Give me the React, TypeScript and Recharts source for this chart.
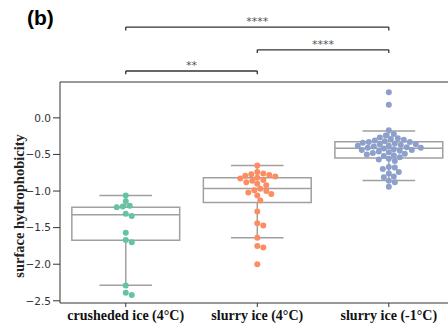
import { ComposedChart, Scatter, XAxis, YAxis, ReferenceArea, ReferenceLine } from "recharts";

const CATS = ["crusheded ice (4°C)", "slurry ice (4°C)", "slurry ice (-1°C)"];
const COLORS = ["#66c2a5", "#fc8d62", "#8da0cb"];

const crushed = [-1.06, -1.14, -1.2, -1.21, -1.22, -1.31, -1.34, -1.57, -1.67, -1.7, -2.29, -2.39, -2.42];
const slurry4 = [
  -0.65, -0.74, -0.76, -0.77, -0.78, -0.79, -0.8, -0.82, -0.83, -0.85, -0.86, -0.88, -0.9, -0.92,
  -0.97, -0.99, -1.0, -1.02, -1.04, -1.06, -1.13, -1.28, -1.44, -1.47, -1.64, -1.75, -1.77, -2.0,
];
const slurryM1 = [
  0.35, 0.18, -0.17, -0.22, -0.24, -0.27, -0.28, -0.29, -0.3, -0.31, -0.32, -0.33, -0.33, -0.34,
  -0.35, -0.36, -0.36, -0.37, -0.38, -0.38, -0.39, -0.4, -0.41, -0.41, -0.42, -0.43, -0.44, -0.44,
  -0.45, -0.46, -0.47, -0.48, -0.49, -0.5, -0.51, -0.52, -0.54, -0.56, -0.57, -0.59, -0.67, -0.68,
  -0.7, -0.74, -0.76, -0.8, -0.81, -0.86, -0.88, -0.94,
];

const boxQ1 = [-1.672, -1.157, -0.55];
const boxMedian = [-1.325, -0.965, -0.415];
const boxQ3 = [-1.22, -0.82, -0.328];
const whiskerLow = [-2.286, -1.64, -0.856];
const whiskerHigh = [-1.06, -0.65, -0.178];

const Y_TICKS = [-2.5, -2, -1.5, -1, -0.5, 0];
const Y_MIN = -2.53;
const Y_MAX = 0.49;

const brackets = [
  { from: 0, to: 1, level: 0.64, label: "**" },
  { from: 1, to: 2, level: 0.93, label: "****" },
  { from: 0, to: 2, level: 1.24, label: "****" },
];

// pixel size of one data unit, used only to lay the swarm out without overlaps
const PX_X = 131.5;
const PX_Y = 73.18;
const R = 3;
const GAP = 5.6;

function swarm(values: number[], center: number) {
  const placed: { x: number; y: number }[] = [];
  const out: { x: number; y: number }[] = [];
  const sorted = [...values].sort((a, b) => b - a);
  for (const v of sorted) {
    const y = v * PX_Y;
    let off = 0;
    for (let k = 0; k < 200; k++) {
      const cand = (k % 2 === 1 ? 1 : -1) * Math.ceil(k / 2);
      const hit = placed.some(p => (p.x - cand) ** 2 + (p.y - y) ** 2 < GAP ** 2);
      if (!hit) { off = cand; break; }
    }
    placed.push({ x: off, y });
    out.push({ x: center + off / PX_X, y: v });
  }
  return out;
}

const groups = [crushed, slurry4, slurryM1].map((vals, i) => swarm(vals, i));

const fmt = (v: number) => (v < 0 ? "\u2212" : "") + Math.abs(v).toFixed(1);
const BOX = "#a0a0a0";

export default function App() {
  return (
    <div style={{ position: "absolute", left: 0, top: 0, width: 448, height: 327, background: "#fff" }}>
      <div style={{ position: "absolute", left: 27, top: 6, fontFamily: "Liberation Sans", fontWeight: 700, fontSize: 21 }}>(b)</div>
      <ComposedChart width={448} height={327} margin={{ top: 82, right: 0, bottom: 0, left: 0 }}>
        <XAxis
          type="number"
          dataKey="x"
          domain={[-0.5, 2.45]}
          ticks={[0, 1, 2]}
          tickFormatter={(v: number) => CATS[v]}
          height={24}
          tickSize={4}
          tickMargin={3}
          stroke="#333"
          tick={{ fill: "#111", fontFamily: "Liberation Serif", fontWeight: 700, fontSize: 14 }}
          allowDataOverflow
        />
        <YAxis
          type="number"
          dataKey="y"
          domain={[Y_MIN, Y_MAX]}
          ticks={Y_TICKS}
          tickFormatter={fmt}
          width={60}
          tickSize={7}
          tickMargin={2}
          stroke="#333"
          allowDataOverflow
          tick={{ fill: "#333", fontFamily: "DejaVu Sans", fontSize: 10.5 }}
          label={{
            content: () => (
              <text x={19} y={206} transform="rotate(-90 19 206)" textAnchor="middle" dominantBaseline="central"
                fontFamily="Liberation Serif" fontWeight={700} fontSize={14.5} fill="#222">
                surface hydrophobicity
              </text>
            ),
          }}
        />
        <ReferenceLine y={Y_MAX} stroke="#333" />
        {CATS.map((_, i) => (
          <ReferenceArea key={"box" + i} x1={i - 0.41} x2={i + 0.41} y1={boxQ1[i]} y2={boxQ3[i]}
            fill="none" fillOpacity={0} stroke={BOX} strokeWidth={1.5} />
        ))}
        {CATS.map((_, i) => (
          <ReferenceLine key={"med" + i} segment={[{ x: i - 0.41, y: boxMedian[i] }, { x: i + 0.41, y: boxMedian[i] }]}
            stroke={BOX} strokeWidth={1.5} />
        ))}
        {CATS.map((_, i) => (
          <ReferenceLine key={"wl" + i} segment={[{ x: i, y: boxQ1[i] }, { x: i, y: whiskerLow[i] }]} stroke={BOX} strokeWidth={1.5} />
        ))}
        {CATS.map((_, i) => (
          <ReferenceLine key={"wh" + i} segment={[{ x: i, y: boxQ3[i] }, { x: i, y: whiskerHigh[i] }]} stroke={BOX} strokeWidth={1.5} />
        ))}
        {CATS.map((_, i) => (
          <ReferenceLine key={"cl" + i} segment={[{ x: i - 0.2, y: whiskerLow[i] }, { x: i + 0.2, y: whiskerLow[i] }]} stroke={BOX} strokeWidth={1.5} />
        ))}
        {CATS.map((_, i) => (
          <ReferenceLine key={"ch" + i} segment={[{ x: i - 0.2, y: whiskerHigh[i] }, { x: i + 0.2, y: whiskerHigh[i] }]} stroke={BOX} strokeWidth={1.5} />
        ))}
        {brackets.map((b, i) => (
          <ReferenceLine key={"br" + i} ifOverflow="visible"
            segment={[{ x: b.from, y: b.level }, { x: b.to, y: b.level }]}
            stroke="#333" strokeWidth={1.3}
            label={{ value: b.label, position: "top", offset: 2, fill: "#555", fontSize: 11, fontFamily: "DejaVu Sans" }} />
        ))}
        {brackets.map((b, i) => (
          <ReferenceLine key={"bl" + i} ifOverflow="visible"
            segment={[{ x: b.from, y: b.level }, { x: b.from, y: b.level - 0.045 }]} stroke="#333" strokeWidth={1.3} />
        ))}
        {brackets.map((b, i) => (
          <ReferenceLine key={"bt" + i} ifOverflow="visible"
            segment={[{ x: b.to, y: b.level }, { x: b.to, y: b.level - 0.045 }]} stroke="#333" strokeWidth={1.3} />
        ))}
        {groups.map((g, i) => (
          <Scatter key={"s" + i} data={g} isAnimationActive={false}
            shape={(p: any) => <circle cx={p.cx} cy={p.cy} r={R} fill={COLORS[i]} />} />
        ))}
      </ComposedChart>
    </div>
  );
}
